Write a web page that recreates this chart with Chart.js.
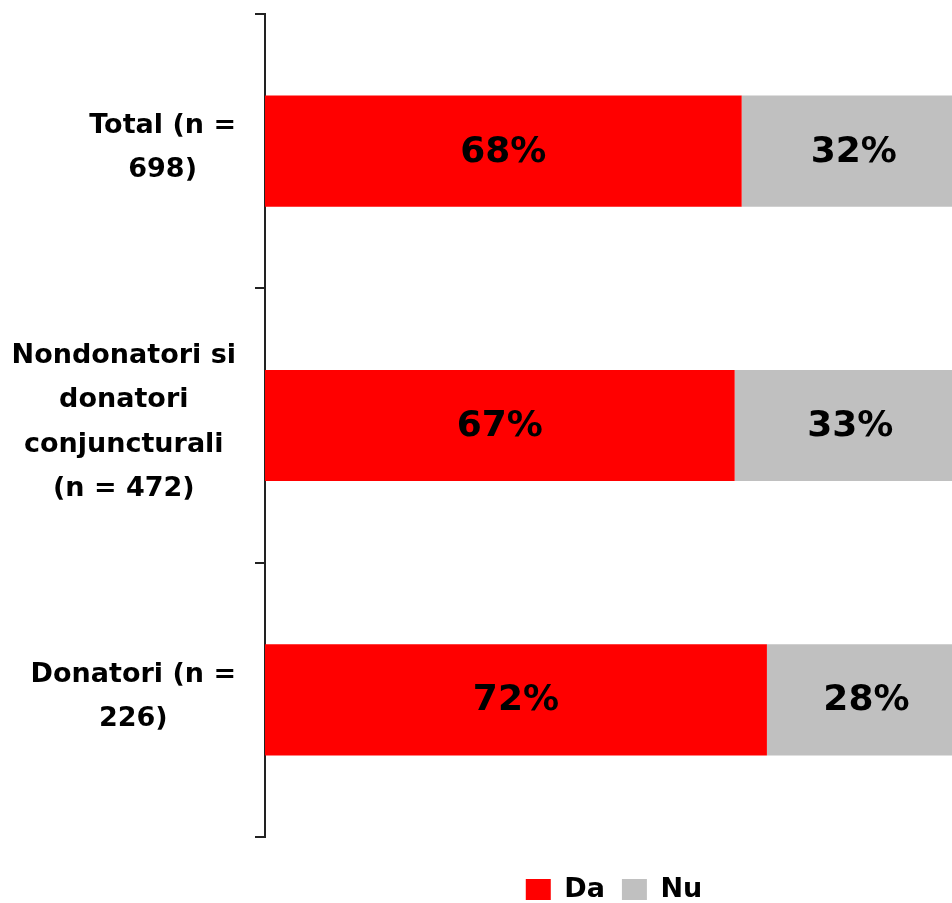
<!DOCTYPE html>
<html>
<head>
<meta charset="utf-8">
<script src="https://cdn.jsdelivr.net/npm/chart.js@4/dist/chart.umd.min.js"></script>
<style>
  html, body { margin: 0; padding: 0; background: #fff; overflow: hidden; }
  #wrap { width: 1228px; height: 913px; }
</style>
</head>
<body>
<div id="wrap"><canvas id="chart" width="1228" height="913"></canvas></div>
<script>
const categories = [
  ["Total (n =", "698)"],
  ["Nondonatori si", "donatori", "conjuncturali", "(n = 472)"],
  ["Donatori (n =", "226)"]
];
const seriesNames = ["Da", "Nu"];
const daValues = [68, 67, 71.6];
const nuValues = [32, 33, 28.4];
const seriesColors = ["#ff0000", "#c0c0c0"];

const FONT = '"DejaVu Sans"';
Chart.defaults.font.family = FONT;
Chart.defaults.color = "#000";

// category labels: block right-aligned next to the axis, lines centred inside it
const categoryLabels = {
  id: "categoryLabels",
  afterDraw(chart) {
    const ctx = chart.ctx;
    const yScale = chart.scales.y;
    ctx.save();
    ctx.font = "bold 27px " + FONT;
    ctx.fillStyle = "#000";
    ctx.textAlign = "center";
    ctx.textBaseline = "middle";
    const right = yScale.right - 29;
    const lineH = 44.5;
    categories.forEach((lines, i) => {
      const w = Math.max(...lines.map((l) => ctx.measureText(l).width));
      const cx = right - w / 2;
      const cy = yScale.getPixelForValue(i) - 3;
      lines.forEach((l, j) => {
        ctx.fillText(l, cx, cy + (j - (lines.length - 1) / 2) * lineH);
      });
    });
    ctx.restore();
  }
};

// percent labels in the middle of each segment
const valueLabels = {
  id: "valueLabels",
  afterDatasetsDraw(chart) {
    const ctx = chart.ctx;
    ctx.save();
    ctx.font = "bold 36px " + FONT;
    ctx.fillStyle = "#000";
    ctx.textAlign = "center";
    ctx.textBaseline = "middle";
    chart.data.datasets.forEach((ds, di) => {
      chart.getDatasetMeta(di).data.forEach((bar, i) => {
        ctx.fillText(Math.round(ds.data[i]) + "%", (bar.x + bar.base) / 2, bar.y + 1);
      });
    });
    ctx.restore();
  }
};

new Chart(document.getElementById("chart"), {
  type: "bar",
  data: {
    labels: categories,
    datasets: [
      { label: seriesNames[0], data: daValues, backgroundColor: seriesColors[0], borderWidth: 0 },
      { label: seriesNames[1], data: nuValues, backgroundColor: seriesColors[1], borderWidth: 0 }
    ]
  },
  options: {
    indexAxis: "y",
    responsive: false,
    animation: false,
    layout: { padding: { top: 14, left: 0, right: 0, bottom: 0 } },
    datasets: { bar: { categoryPercentage: 1, barPercentage: 0.405 } },
    plugins: {
      tooltip: { enabled: false },
      legend: {
        position: "bottom",
        labels: {
          boxWidth: 25,
          boxHeight: 21,
          padding: 17,
          color: "#000",
          font: { size: 27, weight: "bold" }
        }
      }
    },
    scales: {
      x: {
        stacked: true,
        min: 0,
        max: 100,
        grid: { display: false },
        border: { display: false },
        ticks: { display: false },
        afterFit: (s) => { s.height = 22; }
      },
      y: {
        stacked: true,
        z: 1,
        grid: { drawOnChartArea: false, tickLength: 10, color: "#222", lineWidth: 2 },
        border: { color: "#222", width: 2 },
        ticks: { display: false },
        afterFit: (s) => { s.width = 265; }
      },
      // empty right-hand box: the plot runs on to x=966, past the window edge
      yRight: {
        type: "linear",
        position: "right",
        grid: { display: false },
        border: { display: false },
        ticks: { display: false },
        afterFit: (s) => { s.width = 262; }
      }
    }
  },
  plugins: [categoryLabels, valueLabels]
});
</script>
</body>
</html>
